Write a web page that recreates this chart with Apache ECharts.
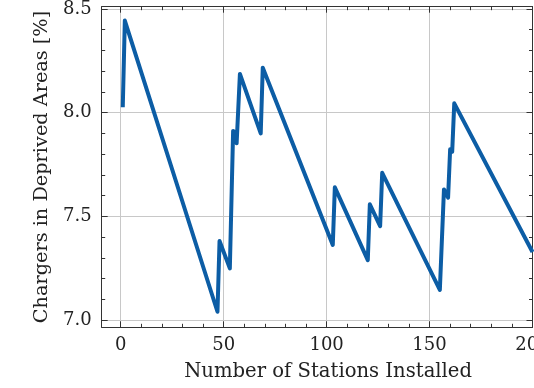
<!DOCTYPE html>
<html>
<head>
<meta charset="utf-8">
<script src="https://cdn.jsdelivr.net/npm/echarts@6/dist/echarts.min.js"></script>
<style>
html,body{margin:0;padding:0;background:#fff;}
#chart{width:534px;height:388px;}
</style>
</head>
<body>
<div id="chart"></div>
<script>
// Data
var stations = [1, 2, 47, 48, 53, 54.6, 55.8, 56.3, 57.9, 68, 69, 103, 104, 120, 121, 126, 127, 155, 157, 159, 160, 161, 162, 200];
var deprivedPct = [8.026, 8.444, 7.04, 7.381, 7.249, 7.912, 7.905, 7.852, 8.187, 7.90, 8.217, 7.362, 7.640, 7.289, 7.558, 7.453, 7.710, 7.145, 7.630, 7.590, 7.823, 7.812, 8.045, 7.328];
var xMajorTicks = [0, 50, 100, 150, 200];
var xMinorTicks = [0, 10, 20, 30, 40, 50, 60, 70, 80, 90, 100, 110, 120, 130, 140, 150, 160, 170, 180, 190, 200];
var yMajorTicks = [7.0, 7.5, 8.0, 8.5];
var yMinorTicks = [7.0, 7.1, 7.2, 7.3, 7.4, 7.5, 7.6, 7.7, 7.8, 7.9, 8.0, 8.1, 8.2, 8.3, 8.4, 8.5];
var xTitle = 'Number of Stations Installed';
var yTitle = 'Chargers in Deprived Areas [%]';

var FONT = '"DejaVu Serif", "Liberation Serif", serif';
var AXIS_COLOR = '#333';
var TEXT_COLOR = '#222';
var X_MIN = -9.23, X_MAX = 200;
var Y_MIN = 6.965, Y_MAX = 8.511;

function axisBase(kind, position, major, opts) {
  var ticks = major ? (kind === 'x' ? xMajorTicks : yMajorTicks) : (kind === 'x' ? xMinorTicks : yMinorTicks);
  var a = {
    type: 'value',
    position: position,
    min: kind === 'x' ? X_MIN : Y_MIN,
    max: kind === 'x' ? X_MAX : Y_MAX,
    axisLine: { show: major, onZero: false, lineStyle: { color: AXIS_COLOR, width: 1 } },
    axisTick: { show: true, inside: true, length: major ? 6 : 3.5, customValues: ticks, lineStyle: { color: AXIS_COLOR, width: 1 } },
    axisLabel: { show: false },
    splitLine: { show: false },
    minorTick: { show: false }
  };
  if (opts) { for (var k in opts) a[k] = opts[k]; }
  return a;
}

var chart = echarts.init(document.getElementById('chart'), null, { renderer: 'canvas' });

var xMain = axisBase('x', 'bottom', true, {
  axisLabel: {
    show: true, customValues: xMajorTicks, margin: 9,
    fontFamily: FONT, fontSize: 18, color: TEXT_COLOR,
    formatter: function (v) { return String(v); }
  },
  splitLine: { show: true, lineStyle: { color: '#c8c8c8', width: 1 } },
  name: xTitle, nameLocation: 'middle', nameGap: 35,
  nameTextStyle: { fontFamily: FONT, fontSize: 19.6, color: TEXT_COLOR, padding: [0, 0, 0, 22] }
});
var yMain = axisBase('y', 'left', true, {
  axisLabel: {
    show: true, customValues: yMajorTicks, margin: 10,
    fontFamily: FONT, fontSize: 18, color: TEXT_COLOR,
    formatter: function (v) { return v.toFixed(1); }
  },
  splitLine: { show: true, lineStyle: { color: '#c8c8c8', width: 1 } },
  name: yTitle, nameLocation: 'middle', nameGap: 50, nameRotate: 90,
  nameTextStyle: { fontFamily: FONT, fontSize: 19.3, color: TEXT_COLOR }
});

var option = {
  animation: false,
  backgroundColor: '#fff',
  grid: { left: 101.7, right: 1.5, top: 6.7, bottom: 60.7, containLabel: false, outerBoundsMode: 'none' },
  xAxis: [
    xMain,
    axisBase('x', 'bottom', false),
    axisBase('x', 'top', true),
    axisBase('x', 'top', false)
  ],
  yAxis: [
    yMain,
    axisBase('y', 'left', false),
    axisBase('y', 'right', true),
    axisBase('y', 'right', false)
  ],
  series: [{
    type: 'line',
    xAxisIndex: 0,
    yAxisIndex: 0,
    showSymbol: false,
    clip: true,
    lineStyle: { color: '#0C5DA5', width: 4, join: 'round' },
    data: stations.map(function (s, i) { return [s, deprivedPct[i]]; })
  }]
};
chart.setOption(option);
</script>
</body>
</html>
